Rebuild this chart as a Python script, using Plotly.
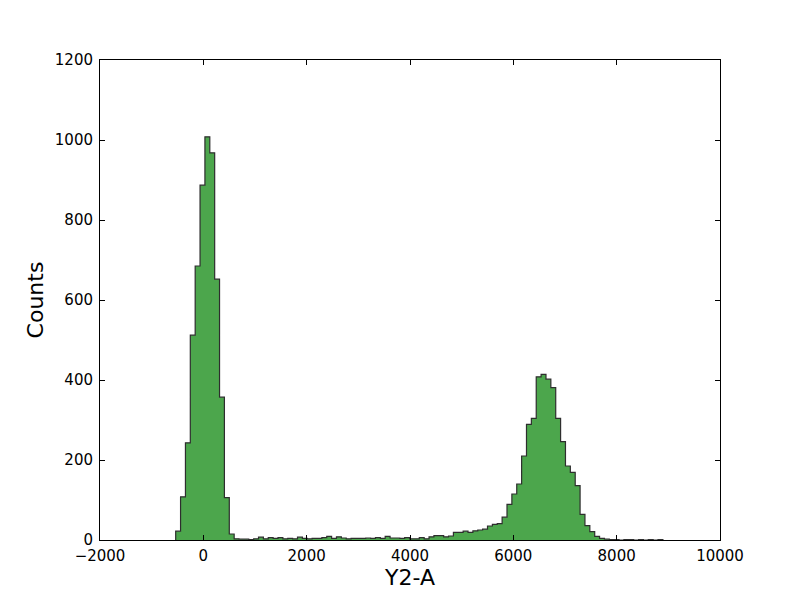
import numpy as np
import plotly.graph_objects as go

# Histogram of Y2-A: 100 equal bins
bin_start = -535.0
bin_width = 94.3
counts = [22, 108, 243, 512, 685, 887, 1008, 968, 652, 357,
          106, 15, 3, 2, 2, 1, 3, 7, 3, 6,
          4, 6, 3, 4, 3, 7, 4, 3, 4, 4,
          6, 9, 4, 8, 5, 3, 4, 4, 4, 5,
          4, 6, 4, 9, 5, 5, 4, 6, 3, 3,
          6, 3, 8, 11, 11, 8, 10, 19, 19, 22,
          19, 23, 25, 27, 35, 39, 41, 57, 89, 115,
          140, 210, 289, 304, 408, 414, 402, 381, 304, 246,
          185, 169, 136, 64, 36, 21, 9, 4, 2, 1,
          1, 0, 1, 1, 0, 1, 0, 1, 0, 1]
x_ticks = [-2000, 0, 2000, 4000, 6000, 8000, 10000]
y_ticks = [0, 200, 400, 600, 800, 1000, 1200]

edges = bin_start + bin_width * np.arange(len(counts) + 1)
xs = [edges[0]] + list(edges[:-1]) + [edges[-1], edges[-1]]
ys = [0] + counts + [counts[-1], 0]

fig = go.Figure(go.Scatter(
    x=xs, y=ys, mode="lines", line_shape="hv",
    fill="tozeroy", fillcolor="#4ca64c",
    line=dict(color="#2e2e2e", width=1.2),
    hoverinfo="skip", showlegend=False))

font = "DejaVu Sans, sans-serif"
axis_common = dict(
    showgrid=False, zeroline=False, showline=True, linecolor="black",
    linewidth=1, mirror="allticks", ticks="inside", ticklen=5,
    tickwidth=1, tickcolor="black",
    tickfont=dict(family=font, size=15, color="black"))

fig.update_layout(
    width=800, height=600,
    margin=dict(l=92, r=88, t=52, b=68),
    paper_bgcolor="white", plot_bgcolor="white",
    xaxis=dict(range=[-2000, 10000], tickvals=x_ticks,
               ticktext=[f"{v}".replace("-", "\u2212") for v in x_ticks],
               ticklabelstandoff=2,
               title=dict(text="Y2-A", font=dict(family=font, size=22, color="black"),
                          standoff=5),
               **axis_common),
    yaxis=dict(range=[0, 1200], tickvals=y_ticks,
               ticklabelstandoff=3,
               title=dict(text="Counts", font=dict(family=font, size=22, color="black"),
                          standoff=5),
               **axis_common),
)
fig.write_html("out.html")
